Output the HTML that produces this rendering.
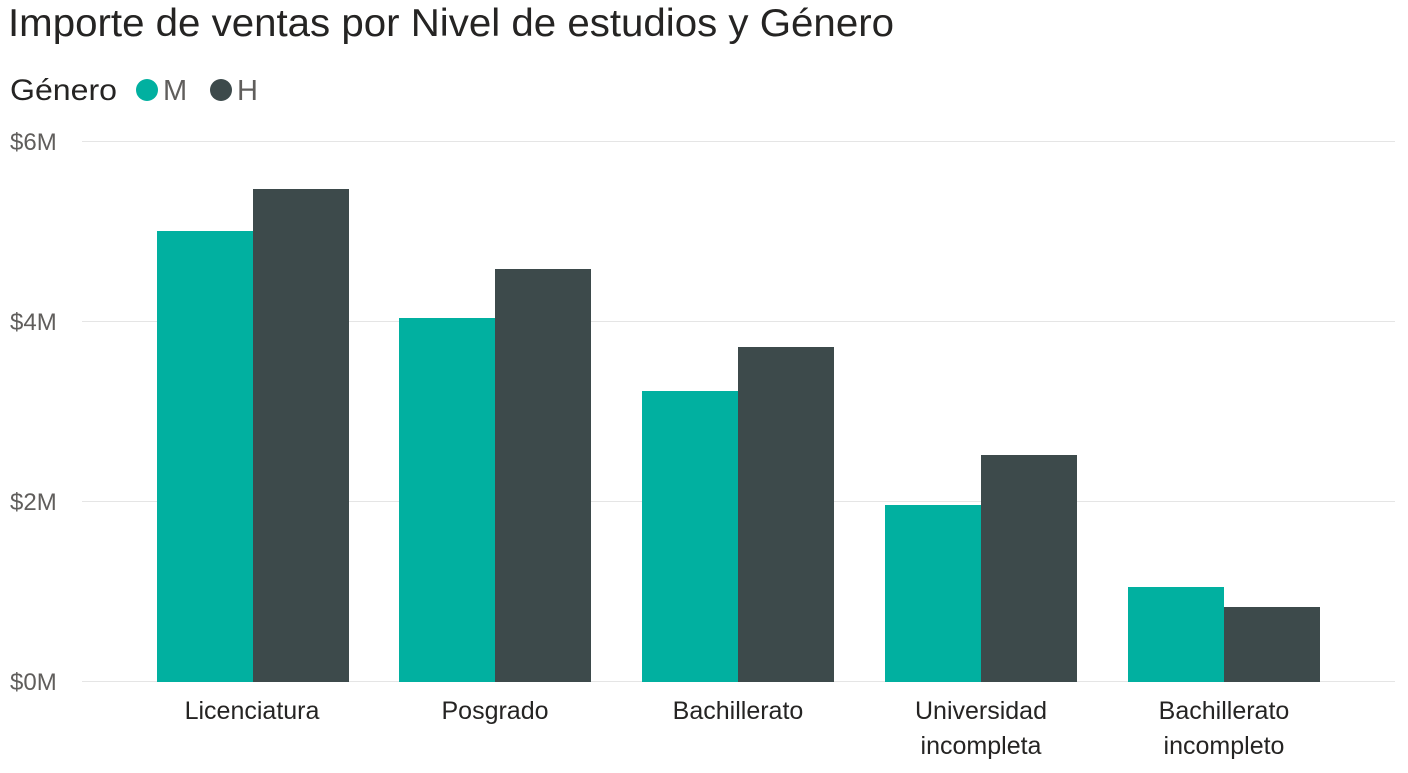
<!DOCTYPE html>
<html><head><meta charset="utf-8"><style>
body{margin:0;background:#fff;width:1408px;height:768px;overflow:hidden;font-family:"Liberation Sans",sans-serif;}
</style></head><body>
<svg width="1408" height="768" xmlns="http://www.w3.org/2000/svg" font-family="Liberation Sans, sans-serif">
<text x="8" y="36" font-size="39" fill="#252423" textLength="886" lengthAdjust="spacingAndGlyphs">Importe de ventas por Nivel de estudios y Género</text>
<text x="10" y="100" font-size="30" fill="#252423" textLength="107" lengthAdjust="spacingAndGlyphs">Género</text>
<circle cx="147" cy="90" r="11" fill="#01B0A0"/>
<text x="163" y="100" font-size="29" fill="#605E5C">M</text>
<circle cx="221" cy="90" r="11" fill="#3D4A4B"/>
<text x="237" y="100" font-size="29" fill="#605E5C">H</text>
<g stroke="#E5E5E5" stroke-width="1">
<line x1="82" x2="1395" y1="141.5" y2="141.5"/>
<line x1="82" x2="1395" y1="321.5" y2="321.5"/>
<line x1="82" x2="1395" y1="501.5" y2="501.5"/>
<line x1="82" x2="1395" y1="681.5" y2="681.5"/>
</g>
<g font-size="24" fill="#605E5C">
<text x="10" y="150">$6M</text>
<text x="10" y="330">$4M</text>
<text x="10" y="510">$2M</text>
<text x="10" y="690">$0M</text>
</g>
<g fill="#01B0A0">
<rect x="157" y="231" width="96" height="451"/>
<rect x="399" y="318" width="96" height="364"/>
<rect x="642" y="391" width="96" height="291"/>
<rect x="885" y="505" width="96" height="177"/>
<rect x="1128" y="587" width="96" height="95"/>
</g>
<g fill="#3D4A4B">
<rect x="253" y="189" width="96" height="493"/>
<rect x="495" y="269" width="96" height="413"/>
<rect x="738" y="347" width="96" height="335"/>
<rect x="981" y="455" width="96" height="227"/>
<rect x="1224" y="607" width="96" height="75"/>
</g>
<g font-size="25" fill="#252423" text-anchor="middle">
<text x="252" y="719">Licenciatura</text>
<text x="495" y="719">Posgrado</text>
<text x="738" y="719">Bachillerato</text>
<text x="981" y="719">Universidad</text>
<text x="981" y="754">incompleta</text>
<text x="1224" y="719">Bachillerato</text>
<text x="1224" y="754">incompleto</text>
</g>
</svg>
</body></html>
